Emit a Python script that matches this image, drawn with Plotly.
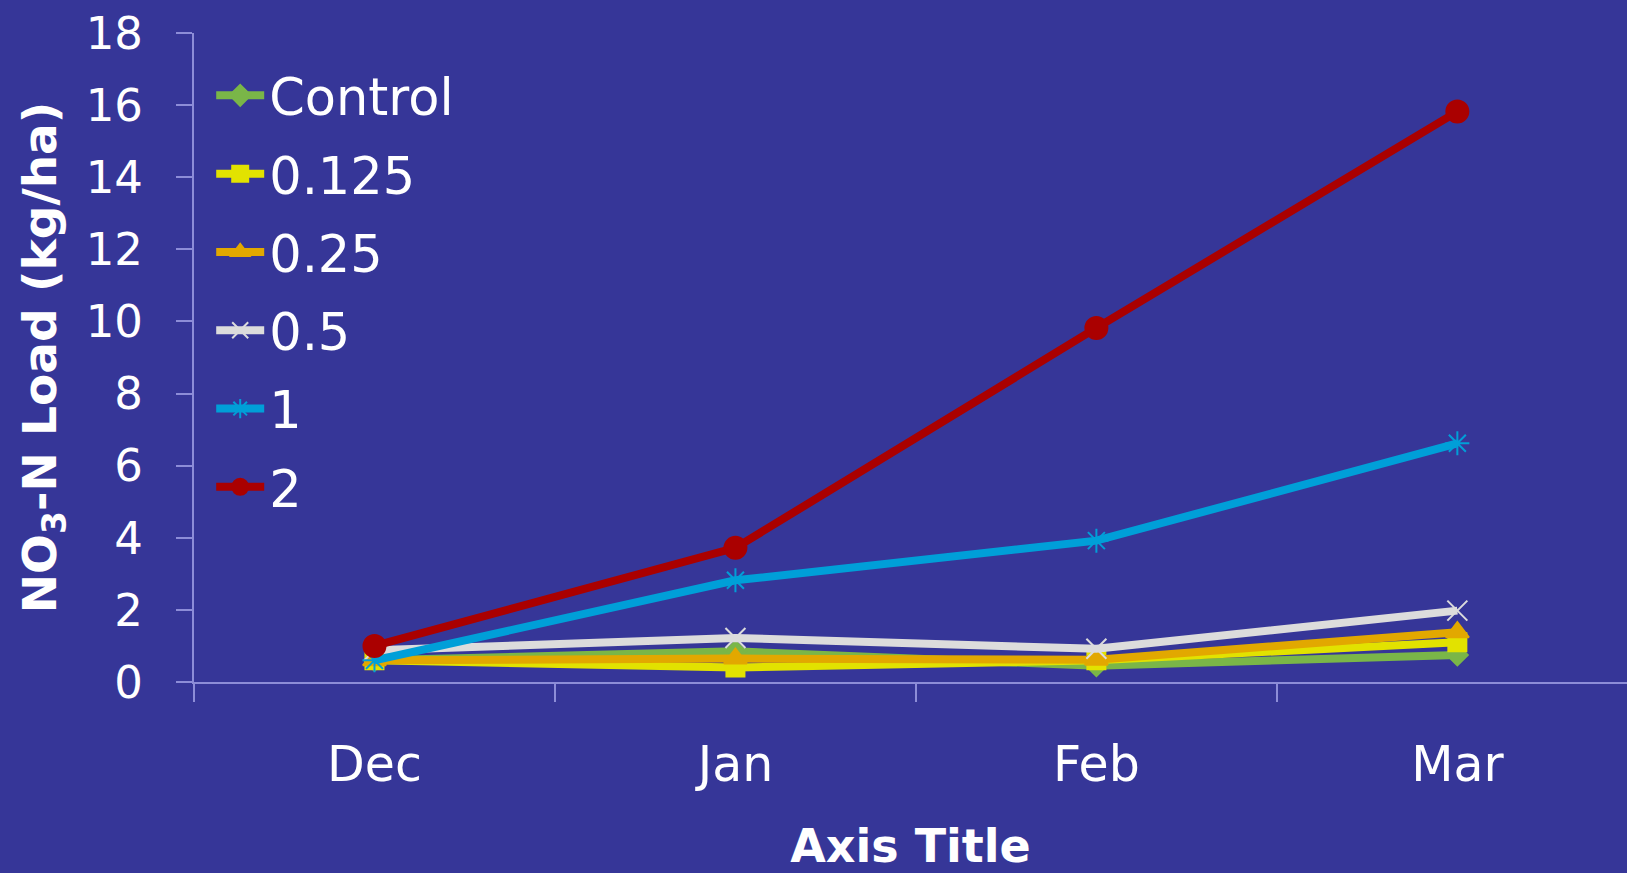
import plotly.graph_objects as go

months = ["Dec", "Jan", "Feb", "Mar"]
series_names = ["Control", "0.125", "0.25", "0.5", "1", "2"]
control = [0.6, 0.85, 0.45, 0.75]
rate_0125 = [0.6, 0.4, 0.6, 1.1]
rate_025 = [0.6, 0.65, 0.62, 1.38]
rate_05 = [0.88, 1.22, 0.92, 1.98]
rate_1 = [0.6, 2.82, 3.92, 6.62]
rate_2 = [1.0, 3.72, 9.82, 15.82]

series_values = [control, rate_0125, rate_025, rate_05, rate_1, rate_2]
colors = ["#7ab648", "#e2e200", "#e2a800", "#dcdcdc", "#009fd8", "#aa0000"]
symbols = ["diamond", "square", "triangle-up", "x-thin-open", "asterisk-open", "circle"]
sizes = [16, 18, 20, 20, 20, 22]

BG = "#363698"
AXIS = "#8d8dd8"
FONT = "'DejaVu Sans', sans-serif"

fig = go.Figure()
for name, vals, col, sym, sz in zip(series_names, series_values, colors, symbols, sizes):
    fig.add_trace(go.Scatter(
        x=months, y=vals, name=name, legendgroup=name, mode="lines+markers",
        line=dict(color=col, width=8),
        marker=dict(symbol=sym, size=sz, color=col,
                    line=dict(color=col, width=2)),
    ))

fig.update_layout(
    width=1627, height=873,
    paper_bgcolor=BG, plot_bgcolor=BG,
    margin=dict(l=194, r=0, t=33, b=191),
    font=dict(family=FONT, color="white"),
    showlegend=True,
    legend=dict(x=0.012, y=0.965, xanchor="left", yanchor="top",
                bgcolor="rgba(0,0,0,0)", font=dict(size=51, color="white"),
                itemwidth=48, tracegroupgap=9),
    xaxis=dict(
        type="category", range=[-0.5, 3.47],
        showgrid=False, zeroline=False,
        showline=True, linecolor=AXIS, linewidth=2,
        ticks="outside", tickson="boundaries", ticklen=18, tickcolor=AXIS, tickwidth=2,
        tickfont=dict(size=49, color="white"), ticklabelstandoff=38,
        title=dict(text="<b>Axis Title</b>", font=dict(size=46, color="white"), standoff=44),
    ),
    yaxis=dict(
        range=[0, 18], dtick=2,
        showgrid=False, zeroline=False,
        showline=True, linecolor=AXIS, linewidth=2,
        ticks="outside", ticklen=16, tickcolor=AXIS, tickwidth=2,
        tickfont=dict(size=45, color="white"), ticklabelstandoff=24,
        title=dict(text="<b>NO<sub>3</sub>-N Load (kg/ha)</b>",
                   font=dict(size=47, color="white"), standoff=14),
    ),
)

fig.write_html("out.html")
